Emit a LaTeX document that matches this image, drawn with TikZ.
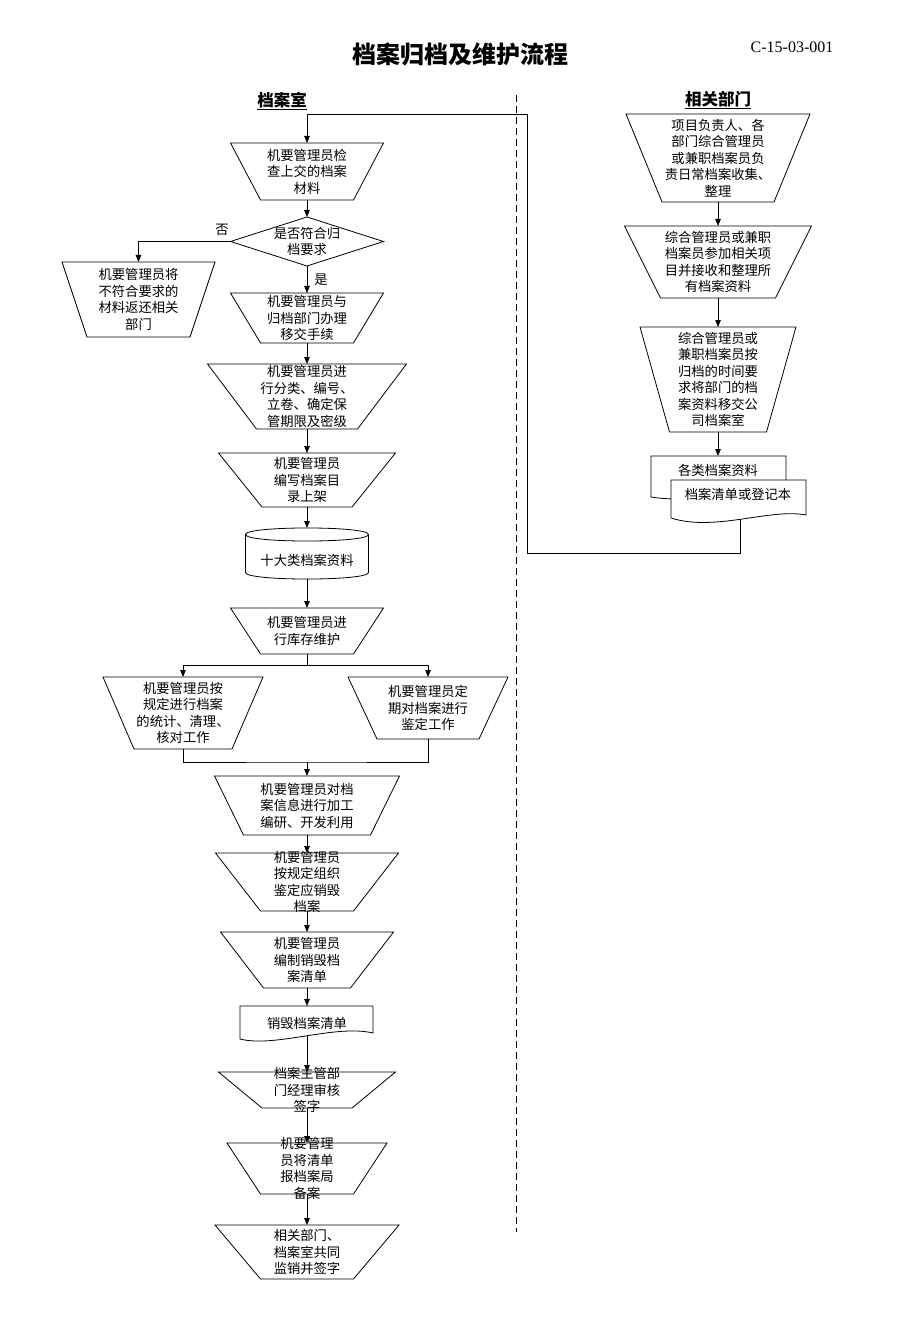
\documentclass[tikz,border=0pt]{standalone}
\usepackage{fontspec}
\setmainfont{Liberation Serif}
\newfontfamily\cjk{Noto Sans CJK SC}
\usetikzlibrary{arrows.meta,calc}
\newcommand\trap[7]{% name, cx, ytop, topw, botw, h, text
  \node[shp, minimum width=#4, minimum height=#6, anchor=north] (#1) at (#2,#3) {};
  \draw[ln] ([xshift=-#4/2]#1.north) -- ([xshift=#4/2]#1.north) -- ([xshift=#5/2]#1.south) -- ([xshift=-#5/2]#1.south) -- cycle;
  \node[txt] (#1t) at (#1.center) {#7};
}
\begin{document}
\begin{tikzpicture}[x=1pt,y=-1pt,
  ln/.style={line width=0.8pt},
  arr/.style={ln,-{Triangle[length=7pt,width=5.5pt]}},
  shp/.style={inner sep=0pt,outer sep=0pt,draw=none},
  txt/.style={inner sep=0pt,outer sep=0pt,align=center,font=\cjk\fontsize{13.3}{16.5}\selectfont},
  lbl/.style={inner sep=0pt,font=\cjk\fontsize{13.3}{16.5}\selectfont},
  head/.style={inner sep=0pt,anchor=base,font=\cjk\bfseries\fontsize{16.5}{18}\selectfont}]
\useasboundingbox (0,0) rectangle (920,1329);

% title
\node[inner sep=0pt,font=\cjk\bfseries\fontsize{24}{28}\selectfont] (title) at (460,54) {档案归档及维护流程};
\node[inner sep=0pt,font=\fontsize{16}{18}\selectfont] (code) at (792,47.5) {C-15-03-001};
\node[head] (h1) at (282,106.5) {\underline{档案室}};
\node[head] (h2) at (718,105.5) {\underline{相关部门}};

% lane separator
\coordinate (s1) at (516,95);
\coordinate (s2) at (516,1232);
\draw[ln,dash pattern=on 7pt off 4pt] (s1) -- (s2);

% left column
\trap{b1}{307}{143}{153}{93}{57}{机要管理员检\\查上交的档案\\材料}
\node[shp, minimum width=153, minimum height=49] (dia) at (307,241.5) {};
\draw[ln] (dia.north) -- (dia.east) -- (dia.south) -- (dia.west) -- cycle;
\node[txt] (diat) at (dia.center) {是否符合归\\档要求};
\trap{bNo}{138.5}{262}{153}{103}{75}{机要管理员将\\不符合要求的\\材料返还相关\\部门}
\trap{b3}{307}{293}{153}{93}{50}{机要管理员与\\归档部门办理\\移交手续}
\trap{b4}{307}{364}{199}{101}{65}{机要管理员进\\行分类、编号、\\立卷、确定保\\管期限及密级}
\trap{b5}{307}{453}{177}{90}{54}{机要管理员\\编写档案目\\录上架}

% cylinder
\node[shp, minimum width=123, minimum height=51] (cyl) at (307,553.5) {};
\draw[ln] (245.5,534.5) .. controls (245.5,525.8) and (368.5,525.8) .. (368.5,534.5)
          .. controls (368.5,543.2) and (245.5,543.2) .. (245.5,534.5) -- (245.5,572.5)
          .. controls (245.5,581.2) and (368.5,581.2) .. (368.5,572.5) -- (368.5,534.5);
\node[txt] (cylt) at (307,560) {十大类档案资料};

\trap{b7}{307}{608}{153}{93}{46}{机要管理员进\\行库存维护}
\trap{bL}{183}{677}{160}{98}{72}{机要管理员按\\规定进行档案\\的统计、清理、\\核对工作}
\trap{bR}{428}{677}{160}{102}{62}{机要管理员定\\期对档案进行\\鉴定工作}
\trap{b8}{307}{776}{185}{127}{59}{机要管理员对档\\案信息进行加工\\编研、开发利用}
\trap{b9}{307}{853}{183}{93}{58}{机要管理员\\按规定组织\\鉴定应销毁\\档案}
\trap{b10}{307}{932}{173}{87}{56}{机要管理员\\编制销毁档\\案清单}

% document
\node[shp, minimum width=133, minimum height=30, anchor=north] (doc) at (307,1006) {};
\draw[ln] (240,1006) -- (373,1006) -- (373,1033) .. controls (335,1024) and (275,1048) .. (240,1039) -- cycle;
\node[txt] (doct) at (307,1023) {销毁档案清单};

\trap{b11}{307}{1072}{177}{90}{36}{档案主管部\\门经理审核\\签字}
\trap{b12}{307}{1143}{160}{93}{51}{机要管理\\员将清单\\报档案局\\备案}
\trap{b13}{307}{1225}{184}{93}{54}{相关部门、\\档案室共同\\监销并签字}

% right column
\trap{r1}{718}{114}{184}{112}{88}{项目负责人、各\\部门综合管理员\\或兼职档案员负\\责日常档案收集、\\整理}
\trap{r2}{718}{226}{187}{115}{72}{综合管理员或兼职\\档案员参加相关项\\目并接收和整理所\\有档案资料}
\trap{r3}{718}{327}{156}{97}{105}{综合管理员或\\兼职档案员按\\归档的时间要\\求将部门的档\\案资料移交公\\司档案室}

% multi-document
\node[shp, minimum width=135, minimum height=41, anchor=north] (docB) at (718,456) {};
\draw[ln,fill=white] (651,456) -- (786,456) -- (786,492) .. controls (760,486) and (700,505) .. (651,497) -- cycle;
\node[txt] (docBt) at (718,470) {各类档案资料};
\node[shp, minimum width=135, minimum height=39, anchor=north] (docF) at (738.5,480) {};
\draw[ln,fill=white] (671,480) -- (806,480) -- (806,515) .. controls (770,508) and (715,532) .. (671,518) -- cycle;
\node[txt] (docFt) at (738,494) {档案清单或登记本};
\coordinate (docFo) at (740,519);

% labels
\node[lbl] (no) at (222,230) {否};
\node[lbl] (yes) at (321,280) {是};

% connectors
\coordinate (c1) at (527,553);
\coordinate (c2) at (527,114);
\draw[arr] (docFo) |- (c1) -- (c2) -| (b1.north);
\draw[arr] (b1.south) -- (dia.north);
\draw[arr] (dia.west) -| (bNo.north);
\draw[arr] (dia.south) -- (b3.north);
\draw[arr] (b3.south) -- (b4.north);
\draw[arr] (b4.south) -- (b5.north);
\draw[arr] (b5.south) -- (cyl.north);
\draw[arr] (cyl.south) -- (b7.north);
\coordinate (sp) at (307,665);
\draw[ln] (b7.south) -- (sp);
\draw[arr] (sp) -| (bL.north);
\draw[arr] (sp) -| (bR.north);
\coordinate (mg) at (307,762);
\draw[ln] (bL.south) |- (mg) -| (bR.south);
\draw[arr] (mg) -- (b8.north);
\draw[arr] (b8.south) -- (b9.north);
\draw[arr] (b9.south) -- (b10.north);
\draw[arr] (b10.south) -- (doc.north);
\draw[arr] (doc.south) -- (b11.north);
\draw[arr] (b11.south) -- (b12.north);
\draw[arr] (b12.south) -- (b13.north);
\draw[arr] (r1.south) -- (r2.north);
\draw[arr] (r2.south) -- (r3.north);
\draw[arr] (r3.south) -- (docB.north);
\end{tikzpicture}
\end{document}
